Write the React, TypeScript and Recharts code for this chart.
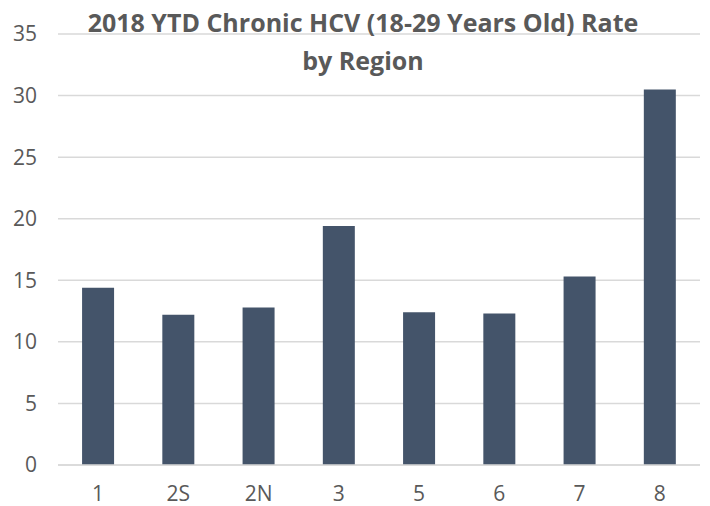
import React from 'react';
import { BarChart, Bar, XAxis, YAxis, CartesianGrid } from 'recharts';

const regions = ['1', '2S', '2N', '3', '5', '6', '7', '8'];
const rates = [14.4, 12.2, 12.8, 19.4, 12.4, 12.3, 15.3, 30.5];
const yTicks = [0, 5, 10, 15, 20, 25, 30, 35];

const data = regions.map((region, i) => ({ region, rate: rates[i] }));

const textColor = '#595959';
const tickStyle = { fill: textColor, fontSize: 21, fontFamily: 'Open Sans' };

export default function App() {
    return (
        <div style={{ position: 'absolute', left: 0, top: 0, width: 710, height: 506, background: '#fff' }}>
            <BarChart
                width={710}
                height={506}
                data={data}
                margin={{ top: 34, right: 10, bottom: 0, left: 0 }}
                barCategoryGap="30%"
            >
                <CartesianGrid vertical={false} stroke="#d9d9d9" strokeWidth={1.5} />
                <XAxis
                    dataKey="region"
                    height={41}
                    tickLine={false}
                    axisLine={{ stroke: '#d9d9d9', strokeWidth: 1.5 }}
                    tick={tickStyle}
                    tickMargin={15}
                    interval={0}
                />
                <YAxis
                    width={58}
                    domain={[0, 35]}
                    ticks={yTicks}
                    axisLine={false}
                    tickLine={false}
                    tick={tickStyle}
                    tickMargin={15}
                />
                <Bar dataKey="rate" fill="#44546a" isAnimationActive={false} />
            </BarChart>
            <div
                style={{
                    position: 'absolute',
                    left: 0,
                    top: 3,
                    width: 726,
                    textAlign: 'center',
                    fontFamily: 'Open Sans',
                    fontWeight: 'bold',
                    fontSize: 25,
                    lineHeight: '38px',
                    color: textColor,
                    pointerEvents: 'none',
                }}
            >
                <div>2018 YTD Chronic HCV (18-29 Years Old) Rate</div>
                <div>by Region</div>
            </div>
        </div>
    );
}
